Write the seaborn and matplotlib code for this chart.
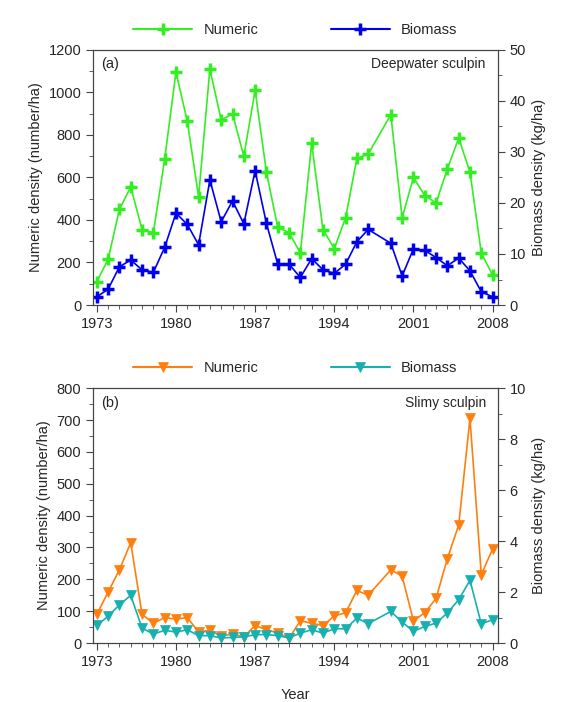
import numpy as np
import pandas as pd
import matplotlib
matplotlib.use("Agg")
import matplotlib.pyplot as plt
import seaborn as sns
from matplotlib.ticker import MultipleLocator
from matplotlib.lines import Line2D

years = [y for y in range(1973, 2009) if y != 1998]
dw_num = [110,215,450,555,355,340,685,1095,865,510,1110,870,900,700,1010,625,365,340,245,760,355,265,410,690,710,895,410,600,515,480,640,785,625,245,140]
dw_bio = [1.6,3.1,7.5,8.8,6.9,6.4,11.3,18,15.8,11.8,24.5,16.3,20.4,15.9,26.3,16,8,8,5.4,9.1,6.9,6.2,8,12.4,14.8,12.1,5.7,11,10.7,9.3,7.7,9.2,6.7,2.6,1.6]
sl_num = [90,160,230,315,90,62,80,75,80,35,40,22,28,20,55,42,32,15,70,62,55,85,95,165,150,230,210,70,95,140,265,370,705,215,295]
sl_bio = [0.69,1.05,1.5,1.87,0.59,0.35,0.5,0.43,0.52,0.29,0.29,0.2,0.22,0.24,0.33,0.33,0.29,0.2,0.39,0.52,0.39,0.56,0.56,0.98,0.76,1.24,0.82,0.46,0.65,0.78,1.18,1.7,2.46,0.75,0.92]

sns.set_style("ticks")
plt.rcParams['font.family'] = ['Liberation Sans', 'DejaVu Sans']
fig = plt.figure(figsize=(5.71, 7.02), dpi=100)
axA = fig.add_axes([0.163, 0.5655, 0.709, 0.3635])
axB = fig.add_axes([0.163, 0.084, 0.709, 0.363])

def panel(ax, num, bio, c1, c2, marker, ylim1, ylim2, maj1, min1, maj2, min2, lab, title):
    df = pd.DataFrame({"Year": years, "num": num, "bio": bio})
    ax2 = ax.twinx()
    mk = dict(marker=marker, markersize=9 if marker == '+' else 7, markeredgewidth=2.5 if marker == '+' else 0.5)
    sns.lineplot(data=df, x="Year", y="num", ax=ax, color=c1, lw=1.2, markeredgecolor=c1, **mk)
    sns.lineplot(data=df, x="Year", y="bio", ax=ax2, color=c2, lw=1.2, markeredgecolor=c2, **mk)
    ax.set_xlim(1972.67, 2008.47)
    ax.set_ylim(*ylim1); ax2.set_ylim(*ylim2)
    ax.set_xticks(range(1973, 2009, 7))
    ax.xaxis.set_minor_locator(MultipleLocator(1))
    ax.yaxis.set_major_locator(MultipleLocator(maj1)); ax.yaxis.set_minor_locator(MultipleLocator(min1))
    ax2.yaxis.set_major_locator(MultipleLocator(maj2)); ax2.yaxis.set_minor_locator(MultipleLocator(min2))
    for a in (ax, ax2):
        a.tick_params(which='major', length=5, labelsize=10.5, color='#444444')
        a.tick_params(which='minor', length=3, color='#444444')
        for s in a.spines.values():
            s.set_visible(True); s.set_color('#444444')
    ax.set_ylabel("Numeric density (number/ha)", fontsize=10.5)
    ax2.set_ylabel("Biomass density (kg/ha)", fontsize=10.5)
    ax.set_xlabel("")
    ax.text(0.02, 0.97, lab, transform=ax.transAxes, va='top', fontsize=10.5)
    ax.text(0.97, 0.97, title, transform=ax.transAxes, va='top', ha='right', fontsize=10)
    h = [Line2D([], [], color=c1, **mk, markeredgecolor=c1), Line2D([], [], color=c2, **mk, markeredgecolor=c2)]
    ax.legend(h, ["Numeric", "Biomass"], loc='lower center', bbox_to_anchor=(0.5, 1.0), ncol=2,
              frameon=False, fontsize=10.5, handlelength=4, columnspacing=5)
    return ax2

panel(axA, dw_num, dw_bio, '#33ee22', '#0000ee', '+', (0, 1200), (0, 50), 200, 100, 10, 5, "(a)", "Deepwater sculpin")
panel(axB, sl_num, sl_bio, '#ff7f0e', '#17b0b0', 'v', (0, 800), (0, 10), 100, 50, 2, 1, "(b)", "Slimy sculpin")
axB.set_xlabel("Year", fontsize=10.5, labelpad=14)
fig.savefig("out.png", dpi=100)
